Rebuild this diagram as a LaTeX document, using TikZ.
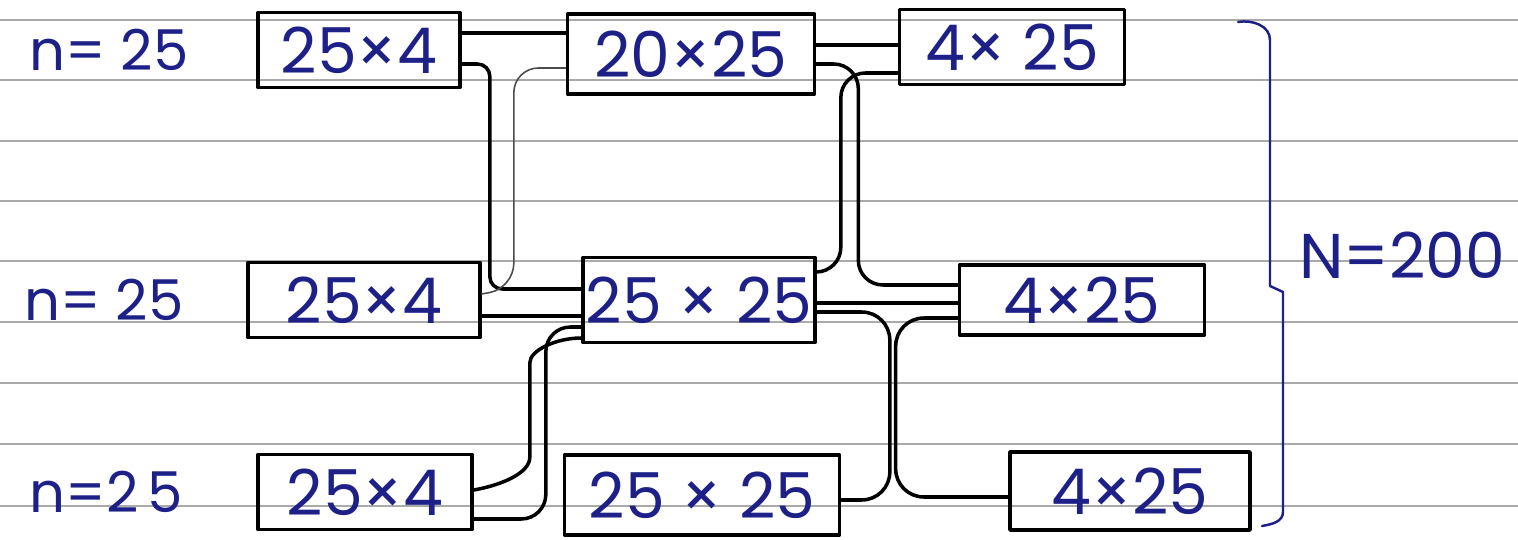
\documentclass[tikz,border=0pt]{standalone}
\usepackage{fontspec}
\setmainfont{Poppins}
\usepackage{tikz}
\usetikzlibrary{positioning}
\definecolor{penblue}{RGB}{28,32,135}
\definecolor{ruling}{RGB}{170,170,170}

\begin{document}
\begin{tikzpicture}[x=0.02cm,y=-0.02cm,line cap=round,line join=round,
  blk/.style={draw, line width=2.1pt, minimum height=1.5cm, inner sep=0pt, text=penblue, font=\fontsize{36}{40}\selectfont},
  nlab/.style={text=penblue, inner sep=0pt, font=\fontsize{32}{36}\selectfont},
  wire/.style={line width=2pt, rounded corners=7pt}]
  \useasboundingbox (0,0) rectangle (1518,540);

  % paper ruling
  \foreach \y in {20,80,141,201,261,322,383,444,506}
    \draw[ruling, line width=0.6pt] (0,\y) -- (1518,\y);

  % first column
  \node[blk, minimum width=4.04cm] (c1r1) at (359,50) {25×4};
  \node[blk, minimum width=4.64cm] (c1r2) at (364,300) {25×4};
  \node[blk, minimum width=4.28cm] (c1r3) at (365,492) {25×4};
  \node[nlab, left=13.5mm of c1r1] (n1) {n= 25};
  \node[nlab, left=12.5mm of c1r2] (n2) {n= 25};
  \node[nlab, left=14.5mm of c1r3] (n3) {n=2\,5};

  % second column
  \node[blk, minimum width=4.94cm, minimum height=1.6cm] (c2r1) at (691,54) {20×25};
  \node[blk, minimum width=4.64cm, minimum height=1.7cm] (c2r2) at (699,300) {25 × 25};
  \node[blk, minimum width=5.5cm, minimum height=1.6cm] (c2r3) at (702,495) {25 × 25};

  % third column
  \node[blk, minimum width=4.5cm] (c3r1) at (1012,47) {4× 25};
  \node[blk, minimum width=4.9cm, minimum height=1.4cm] (c3r2) at (1082,300) {4×25};
  \node[blk, minimum width=4.8cm, minimum height=1.56cm] (c3r3) at (1130,491) {4×25};

  % links column 1 -> column 2
  \draw[wire] (c1r1.east |- 0,33) -- (c2r1.west |- 0,33);
  \draw[wire] (c1r1.east |- 0,64) -- ++(28,0) |- (c2r2.west |- 0,289);
  \draw[wire, line width=0.9pt, black!70, rounded corners=14pt] (c1r2.east |- 0,294) -- ++(32,-6) |- (c2r1.west |- 0,68);
  \draw[wire] (c1r2.east |- 0,316) -- (c2r2.west |- 0,316);
  \draw[wire] (c1r3.east |- 0,490) to[out=10,in=-90] ++(56,-45) -- ++(0,-70) to[out=90,in=180] (c2r2.west |- 0,338);
  \draw[wire, rounded corners=14pt] (c1r3.east |- 0,519) -- ++(72,0) |- (c2r2.west |- 0,327);

  % links column 2 -> column 3
  \draw[wire] (c2r1.east |- 0,45) -- (c3r1.west |- 0,45);
  \draw[wire, rounded corners=14pt] (c2r1.east |- 0,64) -- ++(42,0) |- (c3r2.west |- 0,285);
  \draw[wire, rounded corners=14pt] (c2r2.east |- 0,272) -- ++(24,0) |- (c3r1.west |- 0,73);
  \draw[wire] (c2r2.east |- 0,303) -- (c3r2.west |- 0,303);
  \draw[wire, rounded corners=16pt] (c2r2.east |- 0,312) -- ++(73,0) |- (c2r3.east |- 0,500);
  \draw[wire, rounded corners=16pt] (c3r2.west |- 0,318) -- ++(-62,0) |- (c3r3.west |- 0,497);

  % brace and total
  \draw[penblue, line width=1.4pt] (1238,22) to[out=10,in=90] (1270,40) -- (1270,286)
    -- (1283,292) -- (1283,512) to[out=-90,in=10] (1262,526);
  \node[nlab, font=\fontsize{36}{40}\selectfont] (total) at (1402,255) {N=200};
\end{tikzpicture}
\end{document}
